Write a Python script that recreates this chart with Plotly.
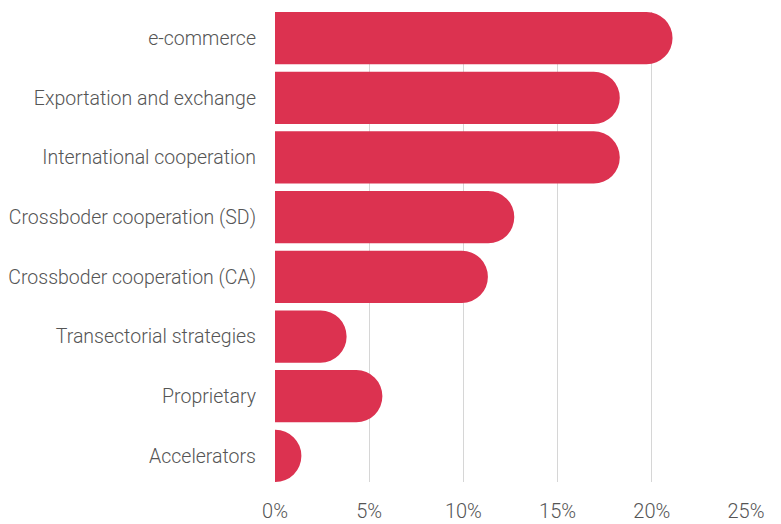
import plotly.graph_objects as go

categories = [
    "e-commerce",
    "Exportation and exchange",
    "International cooperation",
    "Crossboder cooperation (SD)",
    "Crossboder cooperation (CA)",
    "Transectorial strategies",
    "Proprietary",
    "Accelerators",
]
shares = [21.1, 18.3, 18.3, 12.7, 11.3, 3.8, 5.7, 1.4]
tick_vals = [0, 5, 10, 15, 20, 25]
tick_text = ["0%", "5%", "10%", "15%", "20%", "25%"]

fig = go.Figure()
fig.add_bar(
    x=shares,
    y=categories,
    orientation="h",
    marker=dict(color="#DC3250", line=dict(width=0)),
    hoverinfo="x+y",
)

# the page body adds an 8px margin, so the figure is sized/shifted to compensate
fig.update_layout(
    width=773,
    height=516,
    margin=dict(l=267, r=35, t=4, b=42),
    plot_bgcolor="white",
    paper_bgcolor="white",
    bargap=0.125,
    barcornerradius="50%",
    showlegend=False,
    font=dict(family="Roboto", size=20, color="#555555", weight=300),
    xaxis=dict(
        range=[0, 25],
        tickvals=tick_vals,
        ticktext=tick_text,
        showgrid=True,
        gridcolor="#D6D6D6",
        gridwidth=1,
        zeroline=False,
        showline=False,
        ticks="",
        ticklabelstandoff=15,
        automargin=False,
        fixedrange=True,
    ),
    yaxis=dict(
        autorange=False,
        range=[7.4375, -0.4375],
        showgrid=False,
        zeroline=False,
        showline=False,
        ticks="",
        ticklabelstandoff=18,
        automargin=False,
        tickfont=dict(size=19.5),
        fixedrange=True,
    ),
)

fig.write_html("out.html")
